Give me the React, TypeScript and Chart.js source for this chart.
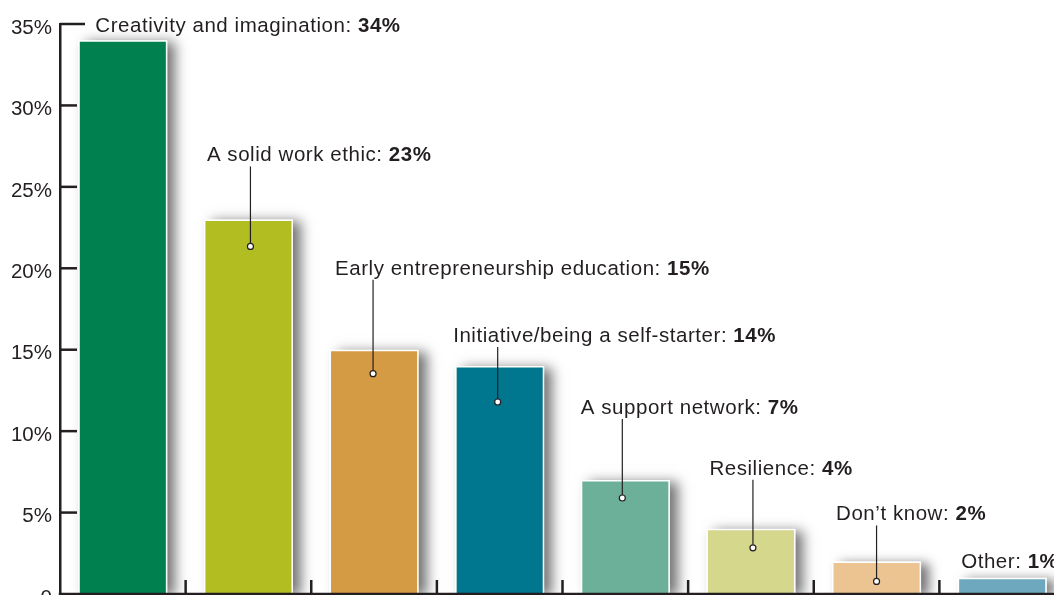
import React, { useEffect, useRef } from "react";
import { Chart, registerables } from "chart.js";

Chart.register(...registerables);

const categories = [
  "Creativity and imagination",
  "A solid work ethic",
  "Early entrepreneurship education",
  "Initiative/being a self-starter",
  "A support network",
  "Resilience",
  "Don\u2019t know",
  "Other",
];
const values = [34, 23, 15, 14, 7, 4, 2, 1];
const barColors = ["#00804F", "#B2BD22", "#D49A44", "#00768F", "#6DB09A", "#D5D78D", "#EBC492", "#6EA8BF"];
const yTicks = [0, 5, 10, 15, 20, 25, 30, 35];

// label layout (pixels): text left offset from bar left, baseline offset from bar top,
// leader x offset from bar centre, leader depth below bar top (null = no leader)
const labelDx = [17, 3, 5.5, -2, 0, 3, 4, 3.5];
const labelDy = [-8, -58, -75, -24, -66, -54, -41, -10];
const leaderDx = [0, 2, -1, -2, -3, 2, 0, 0];
const leaderDepth: (number | null)[] = [null, 27, 24, 36, 18, 19, 20, null];

const INK = "#231f20";
const FONT = '"Liberation Sans", Arial, Helvetica, sans-serif';

const shadowPlugin = {
  id: "barShadow",
  beforeDatasetsDraw(chart: any) {
    const ctx = chart.ctx;
    const meta = chart.getDatasetMeta(0);
    ctx.save();
    ctx.shadowColor = "rgba(0,0,0,0.55)";
    ctx.shadowBlur = 12;
    ctx.shadowOffsetX = 8;
    ctx.shadowOffsetY = 2;
    ctx.fillStyle = "#ffffff";
    meta.data.forEach((bar: any) => {
      const w = bar.width;
      ctx.fillRect(bar.x - w / 2, bar.y, w, bar.base - bar.y);
    });
    ctx.restore();
  },
};

const axesPlugin = {
  id: "customAxes",
  afterDatasetsDraw(chart: any) {
    const ctx = chart.ctx;
    const xs = chart.scales.x;
    const ys = chart.scales.y;
    const area = chart.chartArea;
    ctx.save();
    ctx.strokeStyle = INK;
    ctx.lineWidth = 2.5;
    ctx.lineCap = "butt";
    const by = ys.getPixelForValue(0);
    ctx.beginPath();
    ctx.moveTo(area.left - 1.25, by);
    ctx.lineTo(area.right + 20, by);
    ctx.stroke();
    for (let i = 0; i < categories.length - 1; i++) {
      const x = (xs.getPixelForValue(i) + xs.getPixelForValue(i + 1)) / 2;
      ctx.beginPath();
      ctx.moveTo(x, by);
      ctx.lineTo(x, by - 14);
      ctx.stroke();
    }
    yTicks.forEach((v) => {
      if (v === 0) return;
      const y = ys.getPixelForValue(v);
      const len = v === yTicks[yTicks.length - 1] ? 25 : 17;
      ctx.beginPath();
      ctx.moveTo(area.left, y);
      ctx.lineTo(area.left + len, y);
      ctx.stroke();
    });
    ctx.restore();
  },
};

const labelPlugin = {
  id: "barLabels",
  afterDatasetsDraw(chart: any) {
    const ctx = chart.ctx;
    const meta = chart.getDatasetMeta(0);
    ctx.save();
    meta.data.forEach((bar: any, i: number) => {
      const left = bar.x - bar.width / 2 + labelDx[i];
      const base = bar.y + labelDy[i];
      const depth = leaderDepth[i];
      if (depth !== null) {
        const lx = bar.x + leaderDx[i];
        const ey = bar.y + depth;
        ctx.strokeStyle = INK;
        ctx.lineWidth = 1.2;
        ctx.beginPath();
        ctx.moveTo(lx, base + 5);
        ctx.lineTo(lx, ey - 3);
        ctx.stroke();
        ctx.beginPath();
        ctx.arc(lx, ey, 3, 0, Math.PI * 2);
        ctx.fillStyle = "#ffffff";
        ctx.fill();
        ctx.stroke();
      }
      ctx.fillStyle = INK;
      ctx.textBaseline = "alphabetic";
      ctx.textAlign = "left";
      (ctx as any).letterSpacing = "0.55px";
      const reg = categories[i] + ": ";
      ctx.font = `20.5px ${FONT}`;
      ctx.fillText(reg, left, base);
      const w = ctx.measureText(reg).width;
      ctx.font = `bold 20.5px ${FONT}`;
      ctx.fillText(values[i] + "%", left + w, base);
      (ctx as any).letterSpacing = "0px";
    });
    ctx.restore();
  },
};

export default function App() {
  const ref = useRef<HTMLCanvasElement | null>(null);

  useEffect(() => {
    document.body.style.margin = "0";
    if (!ref.current) return;
    const chart = new Chart(ref.current, {
      type: "bar",
      data: {
        labels: categories,
        datasets: [
          {
            data: values,
            backgroundColor: barColors,
            borderColor: "#ffffff",
            borderWidth: 1.5,
            categoryPercentage: 1,
            barPercentage: 0.709,
          },
        ],
      },
      options: {
        animation: false,
        responsive: true,
        maintainAspectRatio: false,
        layout: { padding: { top: 24, bottom: 26, left: 0, right: 5 } },
        plugins: {
          legend: { display: false },
          tooltip: { enabled: false },
        },
        scales: {
          x: { display: false },
          y: {
            min: 0,
            max: 35,
            afterFit(scale: any) {
              scale.width = 60;
            },
            afterBuildTicks(scale: any) {
              scale.ticks = yTicks.map((v) => ({ value: v }));
            },
            grid: { display: false, drawTicks: false, tickLength: 0 },
            border: { display: true, color: INK, width: 2.5 },
            ticks: {
              padding: 8,
              labelOffset: 4,
              color: INK,
              font: { family: FONT, size: 20.5 },
              callback: (v: any) => (Number(v) === 0 ? "0" : v + "%"),
            },
          },
        },
      },
      plugins: [shadowPlugin, axesPlugin, labelPlugin],
    });
    return () => chart.destroy();
  }, []);

  return (
    <div style={{ position: "absolute", left: 0, top: 0, width: 1054, height: 595, overflow: "hidden", background: "#fff" }}>
      <div style={{ position: "relative", width: 1070, height: 620 }}>
        <canvas ref={ref} />
      </div>
    </div>
  );
}
